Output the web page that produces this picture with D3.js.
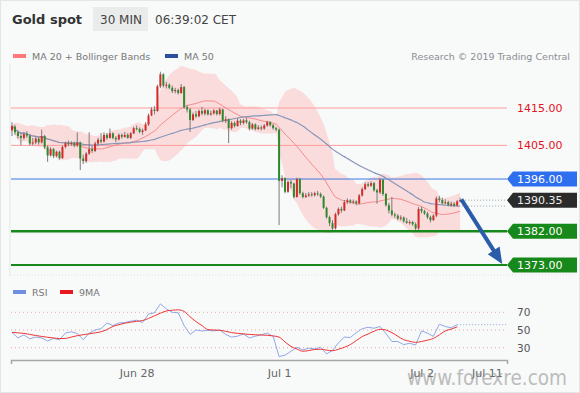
<!DOCTYPE html>
<html><head><meta charset="utf-8">
<script src="https://cdn.jsdelivr.net/npm/d3@7"></script>
<style>body{margin:0;background:#f7f8f8}svg{display:block;font-family:"DejaVu Sans",Verdana,sans-serif}</style>
</head><body><svg id="c" width="580" height="393"></svg>
<script>
// ---- data (30-min candles, Jun 27 03:00 .. Jul 2 06:30 CET) ----
const opens=[1409,1410,1408.5,1407.5,1407,1408,1407.6,1405.5,1405.8,1406.8,
1405.8,1407.5,1404.5,1402.3,1404,1402.2,1403.3,1401.6,1404.6,1405.6,
1405.3,1405.6,1405,1405.8,1401.5,1400.8,1402.8,1404,1403.5,1405.5,
1406.5,1406,1407.8,1407,1408.2,1407,1406.6,1407.8,1407.3,1407.8,
1407,1408.2,1409.6,1409.4,1408.6,1409,1410.6,1413,1414.6,1414.2,
1420.8,1424,1421,1421.2,1420.4,1419.5,1419.8,1419,1420.6,1415.2,
1414.6,1411.8,1413.3,1412.8,1414.2,1413.5,1414.4,1413.3,1413.6,1414.3,
1413.4,1414.6,1411.6,1412,1409.6,1411,1410.2,1411.6,1411,1411.7,
1411.2,1409.5,1410.6,1409.4,1409.8,1409.5,1410.3,1411.2,1410.4,1409.6,
1409.2,1395.5,1396.2,1392.6,1395.2,1394.8,1391.2,1396,1392.2,1391.2,
1391.6,1391.9,1391.7,1392.2,1392,1391.3,1388.3,1385.8,1384.2,1382.8,
1386.6,1388,1387.6,1389.8,1390.3,1389.8,1390,1389.5,1391.6,1393.3,
1394.6,1394.2,1394.9,1393,1392.4,1395.8,1392,1389,1387.6,1386.5,
1386.2,1385.4,1385.7,1384.7,1384.3,1384.5,1383.9,1382.8,1388,1387.4,
1386.8,1385.8,1385,1386.2,1390.8,1390.4,1389.5,1389.8,1389,1389.4,
1388.9,1390];
const closes=[1410.2,1408.5,1407.5,1407,1408,1407.6,1405.5,1405.8,1406.8,1405.8,
1407.5,1404.5,1402.3,1404,1402.2,1403.3,1401.6,1404.6,1405.6,1405.3,
1405.6,1405,1405.8,1401.5,1400.8,1402.8,1404,1403.5,1405.5,1406.5,
1406,1407.8,1407,1408.2,1407,1406.6,1407.8,1407.3,1407.8,1407,
1408.2,1409.6,1409.4,1408.6,1409,1410.6,1413,1414.6,1414.2,1420.8,
1424,1421,1421.2,1420.4,1419.5,1419.8,1419,1420.6,1415.2,1414.6,
1411.8,1413.3,1412.8,1414.2,1413.5,1414.4,1413.3,1413.6,1414.3,1413.4,
1414.6,1411.6,1412,1409.6,1411,1410.2,1411.6,1411,1411.7,1411.2,
1409.5,1410.6,1409.4,1409.8,1409.5,1410.3,1411.2,1410.4,1409.6,1409.2,
1395.5,1396.2,1392.6,1395.2,1394.8,1391.2,1396,1392.2,1391.2,1391.6,
1391.9,1391.7,1392.2,1392,1391.3,1388.3,1385.8,1384.2,1382.8,1386.6,
1388,1387.6,1389.8,1390.3,1389.8,1390,1389.5,1391.6,1393.3,1394.6,
1394.2,1394.9,1393,1392.4,1395.8,1392,1389,1387.6,1386.5,1386.2,
1385.4,1385.7,1384.7,1384.3,1384.5,1383.9,1382.8,1388,1387.4,1386.8,
1385.8,1385,1386.2,1390.8,1390.4,1389.5,1389.8,1389,1389.4,1388.9,
1390,1390.35];
const highs=[1411.2,1410.5,1409,1408.3,1408.6,1408.8,1408,1407,1407.3,1407.2,
1409.2,1407.8,1405,1404.5,1404.3,1403.6,1403.6,1405,1406,1406.3,
1406.1,1406,1408.5,1406,1402.5,1403.2,1408.5,1405,1406,1407,
1408.3,1408.5,1408.3,1409.5,1408.5,1407.5,1408.2,1408.2,1408.6,1408.3,
1408.6,1410,1410.3,1409.8,1409.5,1411.2,1413.5,1415.2,1415.5,1421.2,
1424.7,1424.3,1422,1421.6,1421,1420.4,1420.2,1421.4,1420.9,1415.8,
1415,1413.8,1414.2,1414.6,1415.3,1414.8,1414.6,1414.3,1414.7,1414.5,
1415.1,1414.8,1412.8,1412.2,1411.5,1411.4,1412.2,1412,1412.1,1412.3,
1411.6,1411,1410.9,1410.4,1410.3,1410.7,1411.6,1411.5,1410.7,1410,
1409.5,1397,1396.5,1395.6,1395.8,1395,1396.4,1396.3,1392.6,1392.3,
1392.5,1392.5,1392.6,1392.8,1392.4,1391.6,1388.6,1386.2,1385,1387,
1388.4,1388.6,1390.4,1390.8,1390.6,1390.5,1390.3,1392,1393.8,1395.1,
1395.2,1395.4,1395.2,1393.4,1396.3,1396,1392.3,1389.6,1391.2,1387,
1386.6,1386.3,1386,1385.6,1385,1384.8,1384.4,1388.5,1388.6,1387.8,
1387.2,1386.2,1386.6,1391.3,1391.5,1391,1390.6,1390.2,1390,1389.8,
1390.4,1391];
const lows=[1407.5,1407.8,1406.8,1405,1406.5,1407,1405,1405,1405.3,1405.2,
1405.5,1404,1400.6,1402,1401.6,1401.8,1401.2,1401.4,1404.2,1404.8,
1404.9,1404.5,1404.6,1398.4,1400,1400.3,1402.4,1403,1403.2,1404.8,
1405.5,1405.8,1406.5,1406.8,1406.6,1405.8,1406.3,1406.8,1407,1406.8,
1406.7,1408,1409,1408.2,1407.8,1408.8,1410.2,1412.8,1413.3,1414,
1420.3,1420.5,1420.2,1420,1419,1418.9,1418.6,1418.8,1414.8,1413.8,
1408.6,1411.5,1412.3,1412.5,1413.1,1413,1413,1412.9,1413.2,1413,
1413,1411.2,1411,1405.6,1409.2,1409.8,1410,1410.4,1410.6,1410.8,
1409,1409.2,1409,1409.1,1409,1409.2,1410,1410,1409.2,1408.8,
1383.7,1393.8,1392.2,1392.3,1393.5,1390.8,1391,1391.8,1390.8,1390.9,
1391.2,1391.3,1391.3,1391.5,1390.9,1388,1385.4,1383.4,1382.3,1382.5,
1386.2,1387,1387.4,1389.3,1389.4,1389.3,1389,1389.2,1391.3,1393,
1393.8,1393.9,1392.6,1389.4,1392,1391.5,1388.6,1386.8,1386,1385.6,
1385,1384.9,1384.3,1384,1383.8,1383.5,1382.3,1382.4,1386.8,1386.4,
1385.3,1384.4,1384.8,1385.8,1389.8,1389.2,1389.2,1388.7,1388.6,1388.5,
1388.6,1389.8];
// RSI and its 9MA, one value every 2 candles
const rsiStep=2;
const rsiValues=[47.3,41,44.5,40,42,41,37.5,40.5,39,46.5,
48,46,39,46.5,50,51.5,58,55,58,58.3,
60,61,58.5,68,69.5,79.5,74,70,69.5,55,
45,50,49,49.5,49,50,45,42,43,45.5,
41,43,44.7,46.5,42.8,20,21.5,26,30.5,27.5,
29.5,28.5,30.5,23,27,35.5,42,41.5,47,51.5,
53,52,54,46,37,37,33.5,35,33,49,
46.5,42.8,56.5,54,52.5,56];
const rsiMA9=[47.3,46.8,46.2,45,43.8,42.7,41.8,41,40.3,40.5,
42,43.6,44.7,45.7,46.8,48,50.5,54,56,57.7,
58.8,59.8,60.7,63,66,69,71.5,72.3,72.8,71,
65,59.5,55,50.5,50,49.7,48.5,47,46.3,45.6,
45,44.6,44.3,44,43.3,42,36.5,31.5,28.5,26,
26.8,28,28.3,27.3,26.6,28.2,30.5,33.5,38,42.5,
45.5,48.6,50.8,50,47,43,39,37.3,36,37,
38.5,40.5,44.5,49,51,53.5];
const tickLabels=["Jun 28","Jul 1","Jul 2","Jul 11"];
const tickIndex=[42,90,138,160];
const resistLevels=[1415,1405];
const pivotLevel=1396;
const supportLevels=[1382,1373];
const lastPrice=1390.35;
const rsiTicks=[30,50,70];
const targetIndex=165.2, targetPrice=1373.3;

// ---- scales ----
const svg=d3.select("#c");
const x=d3.scaleLinear().domain([-0.34,166.8]).range([11,507]);
const y=d3.scaleLinear().domain([1373,1415]).range([265,108]);
const yr=d3.scaleLinear().domain([30,70]).range([347.7,312.3]);
const X1=x.range()[0], X2=x.range()[1];

// background
svg.append("rect").attr("x",0.5).attr("y",0.5).attr("width",579).attr("height",392)
  .attr("fill","#f8f9f9").attr("stroke","#e4e6e6");
svg.append("line").attr("x1",10).attr("x2",10).attr("y1",64).attr("y2",276).attr("stroke","#e6e8e8");

// header
svg.append("text").attr("x",12).attr("y",24).attr("font-size",13).attr("font-weight","bold").attr("fill","#333").text("Gold spot");
svg.append("rect").attr("x",93).attr("y",7).attr("width",55).attr("height",24).attr("fill","#eaecec");
svg.append("text").attr("x",100).attr("y",23.5).attr("font-size",12).attr("fill","#444").text("30 MIN");
svg.append("text").attr("x",155).attr("y",23.5).attr("font-size",12).attr("fill","#444").text("06:39:02 CET");
// legend
svg.append("rect").attr("x",13).attr("y",54).attr("width",13).attr("height",4).attr("fill","#f77");
svg.append("text").attr("x",32).attr("y",60).attr("font-size",9.5).attr("fill","#777").text("MA 20 + Bollinger Bands");
svg.append("rect").attr("x",165).attr("y",54).attr("width",13).attr("height",4).attr("fill","#2b4f9a");
svg.append("text").attr("x",184).attr("y",60).attr("font-size",9.5).attr("fill","#777").text("MA 50");
svg.append("text").attr("x",570).attr("y",60).attr("text-anchor","end").attr("font-size",9.5).attr("fill","#8a8f94").text("Research © 2019 Trading Central");

// indicators
const n=closes.length;
const bb=closes.map((c,i)=>{const w=closes.slice(Math.max(0,i-19),i+1);const m=d3.mean(w);
  const sd=w.length>1?Math.sqrt(d3.mean(w,v=>(v-m)*(v-m))):0;return {i,m,u:m+2*sd,l:m-2*sd};});
const ma50=closes.map((c,i)=>({i,m:d3.mean(closes.slice(Math.max(0,i-49),i+1))}));

svg.append("path").datum(bb).attr("d",d3.area().x(d=>x(d.i)).y0(d=>y(d.l)).y1(d=>y(d.u)).curve(d3.curveMonotoneX))
  .attr("fill","#ffb8b8").attr("opacity",0.45);

// horizontal levels
resistLevels.forEach(v=>{
  svg.append("line").attr("x1",X1).attr("x2",X2).attr("y1",y(v)).attr("y2",y(v)).attr("stroke","#ff9c9c");
  svg.append("text").attr("x",517).attr("y",y(v)+4).attr("font-size",11).attr("fill","#e3141e").text(v.toFixed(2));
});
svg.append("line").attr("x1",X1).attr("x2",X2).attr("y1",y(pivotLevel)).attr("y2",y(pivotLevel)).attr("stroke","#3c78e0");
supportLevels.forEach((v,k)=>{
  svg.append("line").attr("x1",X1).attr("x2",X2).attr("y1",y(v)).attr("y2",y(v)).attr("stroke","#17881a").attr("stroke-width",k?2:2.5);
});

svg.append("path").datum(bb).attr("d",d3.line().x(d=>x(d.i)).y(d=>y(d.m)).curve(d3.curveMonotoneX))
  .attr("fill","none").attr("stroke","#f48a8a").attr("stroke-width",1);
svg.append("path").datum(ma50).attr("d",d3.line().x(d=>x(d.i)).y(d=>y(d.m)).curve(d3.curveMonotoneX))
  .attr("fill","none").attr("stroke","#8797ba").attr("stroke-width",1.2);

// candles
const cd=d3.range(n).map(i=>({i,o:opens[i],h:highs[i],l:lows[i],c:closes[i]}));
const g=svg.append("g");
g.selectAll("line.w").data(cd).join("line").attr("x1",d=>x(d.i)).attr("x2",d=>x(d.i))
  .attr("y1",d=>y(d.h)).attr("y2",d=>y(d.l)).attr("stroke","#7a7a7a").attr("stroke-width",1);
g.selectAll("rect").data(cd).join("rect").attr("x",d=>x(d.i)-1).attr("width",2)
  .attr("y",d=>y(Math.max(d.o,d.c))).attr("height",d=>Math.max(1,Math.abs(y(d.o)-y(d.c))))
  .attr("fill",d=>d.c>=d.o?"#d42a2a":"#2d8a2d");

// dotted projections
const lastX=x(n-1)+2;
[lastPrice, ma50[n-1].m].forEach(v=>{
  svg.append("line").attr("x1",lastX).attr("x2",X2).attr("y1",y(v)).attr("y2",y(v))
   .attr("stroke","#98a8b8").attr("stroke-dasharray","1,2");
});

// price labels (boxes)
function tag(v,color,txt){
  const yy=y(v);
  svg.append("path").attr("d",`M${X2},${yy} L${X2+6},${yy-7.5} L577,${yy-7.5} L577,${yy+7.5} L${X2+6},${yy+7.5} Z`).attr("fill",color);
  svg.append("text").attr("x",517).attr("y",yy+4).attr("font-size",11).attr("fill",txt).text(v.toFixed(2));
}
tag(pivotLevel,"#2e6ff0","#fff");
tag(lastPrice,"#2b2b2b","#eee");
supportLevels.forEach(v=>tag(v,"#17881a","#fff"));

// arrow
const ax0=x(n-0.6), ay0=y(lastPrice+0.2), ax1=x(targetIndex), ay1=y(targetPrice);
const dx=ax1-ax0, dy=ay1-ay0, L=Math.hypot(dx,dy), ux=dx/L, uy=dy/L;
const hb=[ax1-ux*16, ay1-uy*16];
svg.append("line").attr("x1",ax0).attr("y1",ay0).attr("x2",hb[0]+ux*2).attr("y2",hb[1]+uy*2)
  .attr("stroke","#2a5caa").attr("stroke-width",4);
svg.append("path").attr("d",`M${ax1},${ay1} L${hb[0]-uy*7},${hb[1]+ux*7} L${hb[0]+uy*7},${hb[1]-ux*7} Z`).attr("fill","#2a5caa");

// separator
svg.append("line").attr("x1",11).attr("x2",575).attr("y1",275).attr("y2",275).attr("stroke","#e2e2e2").attr("stroke-dasharray","1,2");

// RSI panel
svg.append("rect").attr("x",13).attr("y",290).attr("width",13).attr("height",4).attr("fill","#6f8fe0");
svg.append("text").attr("x",32).attr("y",296).attr("font-size",9.5).attr("fill","#777").text("RSI");
svg.append("rect").attr("x",60).attr("y",290).attr("width",13).attr("height",4).attr("fill","#e8191e");
svg.append("text").attr("x",79).attr("y",296).attr("font-size",9.5).attr("fill","#777").text("9MA");
rsiTicks.forEach(v=>{
  svg.append("line").attr("x1",X1).attr("x2",X2).attr("y1",yr(v)).attr("y2",yr(v))
   .attr("stroke","#eaa4a4").attr("stroke-dasharray","1,3");
});
const ra=svg.append("g").attr("transform","translate(510,0)").call(d3.axisRight(yr).tickValues(rsiTicks).tickSize(0).tickPadding(7));
ra.select(".domain").remove();
ra.selectAll("text").attr("font-size",10.5).attr("fill","#555").attr("font-family","DejaVu Sans, sans-serif");

const rl=d3.line().x((d,k)=>x(k*rsiStep)).y(d=>yr(d));
svg.append("path").datum(rsiValues).attr("d",rl).attr("fill","none").attr("stroke","#90a8e8").attr("stroke-width",1);
svg.append("path").datum(rsiMA9).attr("d",rl.curve(d3.curveMonotoneX)).attr("fill","none").attr("stroke","#ee3636").attr("stroke-width",1);
const lr=rsiValues[rsiValues.length-1];
svg.append("line").attr("x1",x((rsiValues.length-1)*rsiStep)).attr("x2",X2).attr("y1",yr(lr)).attr("y2",yr(lr))
  .attr("stroke","#90a8e8").attr("stroke-dasharray","1,2");

// date axis
const xa=svg.append("g").attr("transform","translate(0,360)")
  .call(d3.axisBottom(x).tickValues(tickIndex).tickFormat((d,k)=>tickLabels[k]).tickSizeInner(0).tickSizeOuter(4).tickPadding(9));
xa.select(".domain").attr("stroke","#a8a8a8").attr("stroke-width",1.5);
xa.selectAll("text").attr("font-size",11).attr("fill","#666").attr("font-family","DejaVu Sans, sans-serif");

// watermark
svg.append("text").attr("x",407).attr("y",385).attr("font-size",22).attr("fill","#8c8c8c").attr("opacity",0.55)
  .attr("textLength",160).attr("lengthAdjust","spacingAndGlyphs").text("www.forexre.com");
</script></body></html>
